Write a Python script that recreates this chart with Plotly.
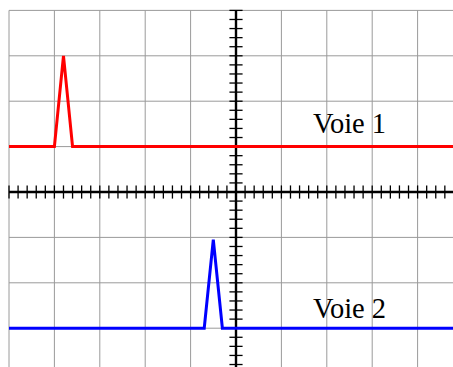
import plotly.graph_objects as go
import numpy as np

# Data (in screen divisions)
voie1_x = [-5.0, -4.0, -3.8, -3.6, 5.0]
voie1_y = [1.0, 1.0, 3.0, 1.0, 1.0]
voie2_x = [-5.0, -0.7, -0.5, -0.3, 5.0]
voie2_y = [-3.0, -3.0, -1.05, -3.0, -3.0]
labels = ["Voie 1", "Voie 2"]
label_x = [2.5, 2.5]
label_y = [1.51, -2.56]

# Screen geometry
x_min, x_max = -5, 5
y_min, y_max = -4, 4
minor = 0.2
tick_half = 0.145

U = 45.4  # pixels per division
W, H = 453, 367
ox, oy = 236, 192

fig = go.Figure()

# grid
gx, gy = [], []
for v in range(x_min, x_max + 1):
    gx += [v, v, None]
    gy += [y_min, y_max, None]
for v in range(y_min, y_max + 1):
    gx += [x_min, x_max, None]
    gy += [v, v, None]
fig.add_trace(go.Scatter(x=gx, y=gy, mode="lines",
                         line=dict(color="#9a9a9a", width=1), hoverinfo="skip"))

# axes
fig.add_trace(go.Scatter(x=[x_min, x_max, None, 0, 0], y=[0, 0, None, y_min, y_max],
                         mode="lines", line=dict(color="black", width=2.4), hoverinfo="skip"))

# minor ticks
tx, ty = [], []
for t in np.arange(x_min, x_max + 1e-9, minor):
    tx += [t, t, None]
    ty += [-tick_half, tick_half, None]
for t in np.arange(y_min, y_max + 1e-9, minor):
    tx += [-tick_half, tick_half, None]
    ty += [t, t, None]
fig.add_trace(go.Scatter(x=tx, y=ty, mode="lines",
                         line=dict(color="black", width=1.3), hoverinfo="skip"))

# signals
fig.add_trace(go.Scatter(x=voie1_x, y=voie1_y, mode="lines",
                         line=dict(color="#ff0000", width=3)))
fig.add_trace(go.Scatter(x=voie2_x, y=voie2_y, mode="lines",
                         line=dict(color="#0000ff", width=3)))

for t, x, y in zip(labels, label_x, label_y):
    fig.add_annotation(x=x, y=y, text=t, showarrow=False, xanchor="center", yanchor="middle",
                       font=dict(family="Liberation Serif", size=28.5, color="black"))

fig.update_layout(
    width=W, height=H, margin=dict(l=0, r=0, t=0, b=0),
    paper_bgcolor="white", plot_bgcolor="white", showlegend=False,
    hovermode=False,
    xaxis=dict(range=[-ox / U, (W - ox) / U], visible=False, fixedrange=True),
    yaxis=dict(range=[-(H - oy) / U, oy / U], visible=False, fixedrange=True),
)

fig.write_html(
    "out.html",
    config={"displayModeBar": False, "staticPlot": True},
    post_script="document.body.style.margin='0';document.documentElement.style.overflow='hidden';",
)
